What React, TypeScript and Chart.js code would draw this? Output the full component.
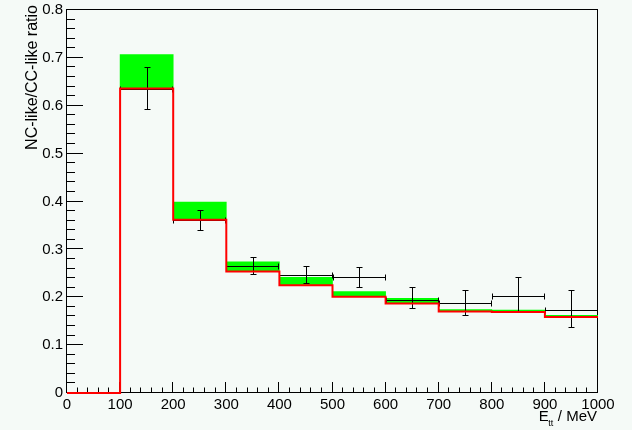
import React, { useEffect, useRef } from 'react';
import { Chart, registerables } from 'chart.js';

Chart.register(...registerables);

// ---- Data ----
const binEdges = [0, 100, 200, 300, 400, 500, 600, 700, 800, 900, 1000];
// red histogram (per bin)
const predicted = [0, 0.636, 0.362, 0.254, 0.225, 0.201, 0.187, 0.170, 0.169, 0.159];
// green band upper edge (per bin, null = none)
const bandTop = [null, 0.707, 0.399, 0.274, 0.2416, 0.212, 0.198, 0.174, 0.173, 0.162];
// measured points
const dataCenters = [150, 250, 350, 450, 550, 650, 750, 850, 950];
const dataValues = [0.636, 0.361, 0.2652, 0.2471, 0.2423, 0.1936, 0.1886, 0.2026, 0.174];
const errUp = [0.044, 0.021, 0.0195, 0.019, 0.021, 0.028, 0.027, 0.040, 0.042];
const errDown = [0.043, 0.021, 0.016, 0.017, 0.0215, 0.017, 0.025, 0.031, 0.037];
const xErrHalf = [50, 50, 50, 50, 50, 50, 50, 50, 50];

const yTitle = 'NC-like/CC-like ratio';
const xTitleMain = 'E';
const xTitleSub = 'tt';
const xTitleRest = ' / MeV';

const BG = '#f5faf7';
const FONT = '"Liberation Sans", Arial, Helvetica, sans-serif';

const rootPlugin = {
  id: 'rootStyle',
  beforeDatasetsDraw(chart: any) {
    const { ctx, chartArea } = chart;
    const xs = chart.scales.x;
    const ys = chart.scales.y;
    const { left, right, top, bottom } = chartArea;
    ctx.save();
    ctx.strokeStyle = '#000';
    ctx.lineWidth = 1;
    ctx.strokeRect(Math.round(left) - 0.5, Math.round(top) - 0.5, Math.round(right - left), Math.round(bottom - top));
    ctx.beginPath();
    // y ticks (major 0.1, minor 0.02)
    for (let i = 0; i <= 40; i++) {
      const py = Math.round(ys.getPixelForValue(i * 0.02)) - 0.5;
      const len = i % 5 === 0 ? 16 : 8;
      ctx.moveTo(left, py);
      ctx.lineTo(left + len, py);
    }
    // x ticks (major 100, minor 20)
    for (let i = 0; i <= 50; i++) {
      const px = Math.round(xs.getPixelForValue(i * 20)) - 0.5;
      const len = i % 5 === 0 ? 11 : 5.5;
      ctx.moveTo(px, bottom);
      ctx.lineTo(px, bottom - len);
    }
    ctx.stroke();
    ctx.restore();
  },
  afterDatasetDraw(chart: any, args: any) {
    if (args.index !== 0) return;
    const { ctx } = chart;
    const xs = chart.scales.x;
    const ys = chart.scales.y;
    ctx.save();
    ctx.strokeStyle = '#000';
    ctx.lineWidth = 1;
    ctx.beginPath();
    const cap = 3;
    for (let i = 0; i < dataCenters.length; i++) {
      const px = Math.round(xs.getPixelForValue(dataCenters[i])) + 0.5;
      const py = Math.round(ys.getPixelForValue(dataValues[i])) + 0.5;
      const pt = Math.round(ys.getPixelForValue(dataValues[i] + errUp[i])) + 0.5;
      const pb = Math.round(ys.getPixelForValue(dataValues[i] - errDown[i])) + 0.5;
      const pl = Math.round(xs.getPixelForValue(dataCenters[i] - xErrHalf[i])) + 0.5;
      const pr = Math.round(xs.getPixelForValue(dataCenters[i] + xErrHalf[i])) - 0.5;
      ctx.moveTo(px, pt); ctx.lineTo(px, pb);
      ctx.moveTo(px - cap, pt); ctx.lineTo(px + cap, pt);
      ctx.moveTo(px - cap, pb); ctx.lineTo(px + cap, pb);
      ctx.moveTo(pl, py); ctx.lineTo(pr, py);
      ctx.moveTo(pl, py - cap); ctx.lineTo(pl, py + cap);
      ctx.moveTo(pr, py - cap); ctx.lineTo(pr, py + cap);
    }
    ctx.stroke();
    ctx.restore();
  },
  afterDraw(chart: any) {
    const { ctx } = chart;
    ctx.save();
    ctx.fillStyle = '#000';
    // y title, rotated, right-aligned at top
    ctx.save();
    ctx.translate(37, 5);
    ctx.rotate(-Math.PI / 2);
    ctx.font = `16px ${FONT}`;
    ctx.textAlign = 'right';
    ctx.textBaseline = 'alphabetic';
    ctx.fillText(yTitle, 0, 0);
    ctx.restore();
    // x title, right-aligned at end of axis
    ctx.save();
    ctx.translate(597, 421);
    ctx.textAlign = 'left';
    ctx.textBaseline = 'alphabetic';
    ctx.font = `15px ${FONT}`;
    const wMain = ctx.measureText(xTitleMain).width;
    const wRest = ctx.measureText(xTitleRest).width;
    ctx.font = `9px ${FONT}`;
    const wSub = ctx.measureText(xTitleSub).width;
    const start = -(wMain + wSub + wRest);
    ctx.font = `15px ${FONT}`;
    ctx.fillText(xTitleMain, start, 0);
    ctx.fillText(xTitleRest, start + wMain + wSub, 0);
    ctx.font = `9px ${FONT}`;
    ctx.fillText(xTitleSub, start + wMain - 0.5, 4.5);
    ctx.restore();
    ctx.restore();
  },
};

export default function App() {
  const ref = useRef<HTMLCanvasElement | null>(null);

  useEffect(() => {
    document.body.style.margin = '0';
    document.body.style.background = BG;
    const canvas = ref.current;
    if (!canvas) return;

    const bandData = [] as any[];
    for (let i = 0; i < predicted.length; i++) {
      if (bandTop[i] == null) continue;
      bandData.push({ x: (binEdges[i] + binEdges[i + 1]) / 2, y: [predicted[i], bandTop[i]] });
    }
    const lineData = binEdges.map((e, i) => ({
      x: e,
      y: i < predicted.length ? predicted[i] : predicted[predicted.length - 1],
    }));

    const chart = new Chart(canvas, {
      type: 'bar',
      data: {
        datasets: [
          {
            type: 'bar',
            data: bandData,
            backgroundColor: '#00ff00',
            borderWidth: 0,
            barPercentage: 1,
            categoryPercentage: 1,
            order: 2,
          } as any,
          {
            type: 'line',
            data: lineData,
            borderColor: '#ff0000',
            borderWidth: 2,
            pointRadius: 0,
            stepped: 'before',
            fill: false,
            clip: false,
            order: 1,
          } as any,
        ],
      },
      options: {
        animation: false,
        responsive: false,
        maintainAspectRatio: false,
        layout: { padding: { top: 10, right: 34, left: 0, bottom: 0 } },
        plugins: { legend: { display: false }, tooltip: { enabled: false } },
        scales: {
          x: {
            type: 'linear',
            min: 0,
            max: 1000,
            offset: false,
            grid: { display: false, drawTicks: false },
            border: { display: false },
            ticks: {
              stepSize: 100,
              autoSkip: false,
              maxRotation: 0,
              padding: 3,
              color: '#000',
              font: { family: FONT, size: 15 },
              callback: (v: any) => String(Math.round(Number(v))),
            },
            afterFit: (s: any) => {
              s.height = 37;
              s.paddingLeft = 0;
              s.paddingRight = 0;
            },
          },
          y: {
            type: 'linear',
            min: 0,
            max: 0.8,
            grid: { display: false, drawTicks: false },
            border: { display: false },
            ticks: {
              stepSize: 0.1,
              padding: 4,
              color: '#000',
              font: { family: FONT, size: 15 },
              callback: (v: any) => (Math.abs(v) < 1e-9 ? '0' : Number(v).toFixed(1)),
            },
            afterFit: (s: any) => {
              s.width = 67;
              s.paddingTop = 0;
              s.paddingBottom = 0;
            },
          },
        },
      },
      plugins: [rootPlugin],
    });
    return () => chart.destroy();
  }, []);

  return (
    <div style={{ width: 632, height: 430, background: BG }}>
      <canvas ref={ref} width={632} height={430} style={{ display: 'block', width: 632, height: 430 }} />
    </div>
  );
}
